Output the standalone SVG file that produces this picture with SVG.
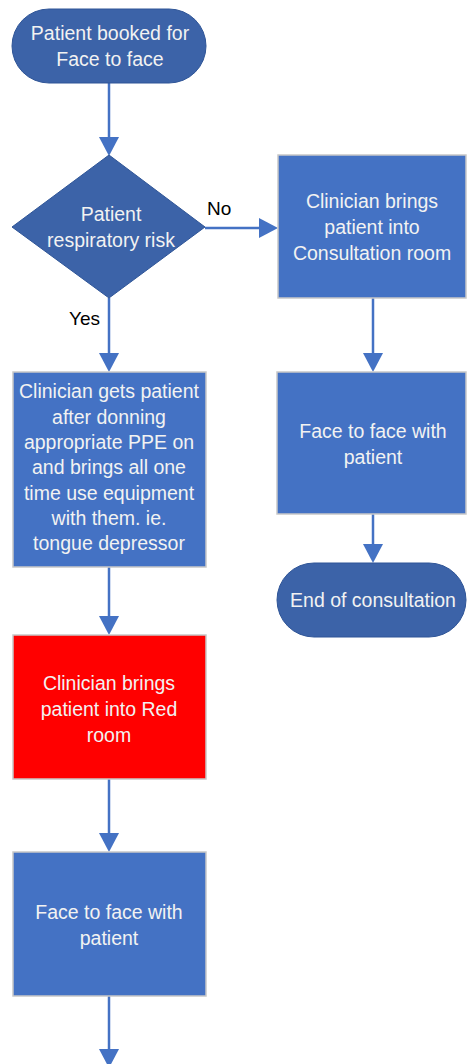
<svg xmlns="http://www.w3.org/2000/svg" width="467" height="1064" viewBox="0 0 467 1064">
<defs>
<style>
.term{fill:#3c63a8;stroke:#2f5597;stroke-width:1}
.proc{fill:#4472c4;stroke:#c8c8c8;stroke-width:1.5}
.red{fill:#ff0000;stroke:#c8c8c8;stroke-width:1.5}
.t{font-family:"Liberation Sans",Arial,sans-serif;font-size:19.5px;fill:#f2f2f2;text-anchor:middle}
.lbl{font-family:"Liberation Sans",Arial,sans-serif;font-size:19px;fill:#000}
.c{stroke:#4472c4;stroke-width:2.5;fill:none}
</style>
</defs>
<rect width="467" height="1064" fill="#fff"/>
<g id="connectors">
<line class="c" x1="109" y1="83" x2="109" y2="137"/>
<path d="M99,137 L119,137 L109,156 z" fill="#4472c4"/>
<line class="c" x1="205" y1="228" x2="259" y2="228"/>
<path d="M259,218 L259,238 L278,228 z" fill="#4472c4"/>
<line class="c" x1="109" y1="298" x2="109" y2="353"/>
<path d="M99,353 L119,353 L109,372 z" fill="#4472c4"/>
<line class="c" x1="373" y1="298" x2="373" y2="353"/>
<path d="M363,353 L383,353 L373,372 z" fill="#4472c4"/>
<line class="c" x1="373" y1="514" x2="373" y2="544"/>
<path d="M363,544 L383,544 L373,563 z" fill="#4472c4"/>
<line class="c" x1="109" y1="567" x2="109" y2="616"/>
<path d="M99,616 L119,616 L109,635 z" fill="#4472c4"/>
<line class="c" x1="109" y1="779" x2="109" y2="833"/>
<path d="M99,833 L119,833 L109,852 z" fill="#4472c4"/>
<line class="c" x1="109" y1="996" x2="109" y2="1049"/>
<path d="M99,1049 L119,1049 L109,1068 z" fill="#4472c4"/>
<text class="lbl" x="207" y="215">No</text>
<text class="lbl" x="69" y="325">Yes</text>
</g>
<g id="start">
<rect class="term" x="12" y="9" width="194" height="74" rx="37" ry="37"/>
<text class="t" x="110" y="40">Patient booked for</text>
<text class="t" x="110" y="66">Face to face</text>
</g>
<g id="decision">
<polygon class="term" points="109,155 205,227 109,298 12,227"/>
<text class="t" x="111" y="221">Patient</text>
<text class="t" x="111" y="247">respiratory risk</text>
</g>
<g id="consult">
<rect class="proc" x="278" y="155" width="188" height="143"/>
<text class="t" x="372" y="208">Clinician brings</text>
<text class="t" x="372" y="234">patient into</text>
<text class="t" x="372" y="260">Consultation room</text>
</g>
<g id="f2f-right">
<rect class="proc" x="277" y="372" width="189" height="142"/>
<text class="t" x="373" y="438">Face to face with</text>
<text class="t" x="373" y="464">patient</text>
</g>
<g id="end">
<rect class="term" x="277" y="563" width="189" height="74" rx="37" ry="37"/>
<text class="t" x="373" y="607">End of consultation</text>
</g>
<g id="ppe">
<rect class="proc" x="13" y="372" width="193" height="195"/>
<text class="t" x="109" y="398">Clinician gets patient</text>
<text class="t" x="109" y="424">after donning</text>
<text class="t" x="109" y="449">appropriate PPE on</text>
<text class="t" x="109" y="474">and brings all one</text>
<text class="t" x="109" y="500">time use equipment</text>
<text class="t" x="109" y="525">with them. ie.</text>
<text class="t" x="109" y="550">tongue depressor</text>
</g>
<g id="redroom">
<rect class="red" x="13" y="635" width="193" height="144"/>
<text class="t" x="109" y="690">Clinician brings</text>
<text class="t" x="109" y="716">patient into Red</text>
<text class="t" x="109" y="742">room</text>
</g>
<g id="f2f-left">
<rect class="proc" x="13" y="852" width="193" height="144"/>
<text class="t" x="109" y="919">Face to face with</text>
<text class="t" x="109" y="945">patient</text>
</g>
</svg>
